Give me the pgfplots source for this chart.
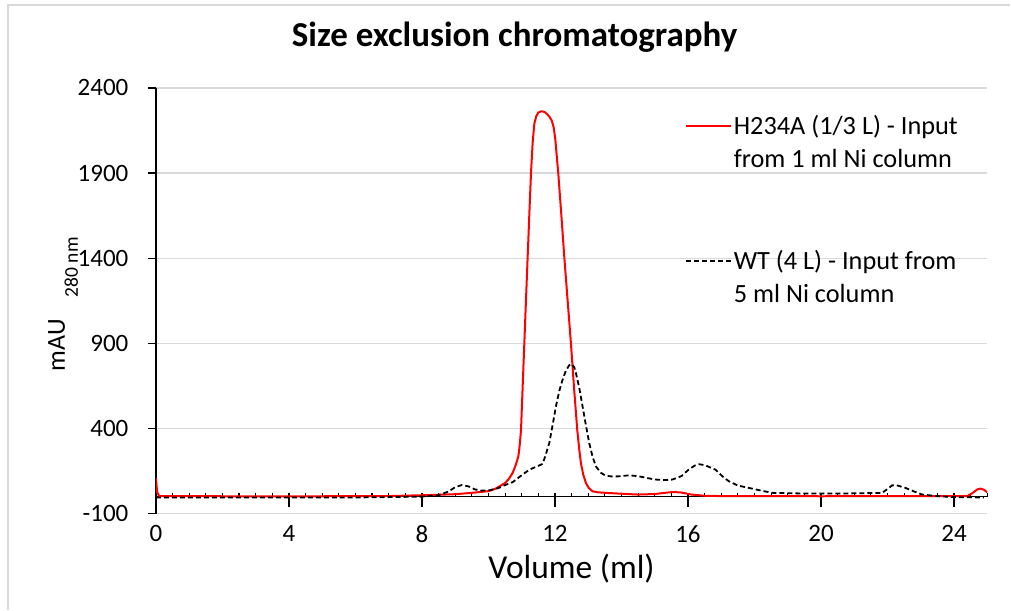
\documentclass[border=0pt]{standalone}
\usepackage{fontspec}
\setmainfont{Carlito}
\usepackage{pgfplots}
\usepackage{pgfplotstable}
\pgfplotsset{compat=1.18}
\definecolor{gridgrey}{HTML}{D9D9D9}

% H234A (1/3 L), input from 1 ml Ni column
\pgfplotstableread{
x y
0 110
0.04 25
0.1 3
2 2
5 2
7 3
8 8
9 14
9.5 22
10 32
10.2 45
10.33 60
10.5 80
10.62 105
10.73 140
10.82 185
10.9 236
10.94 300
10.98 393
11.03 650
11.08 904
11.13 1160
11.18 1410
11.23 1660
11.28 1900
11.33 2080
11.38 2190
11.44 2235
11.5 2255
11.57 2262
11.63 2262
11.7 2257
11.77 2245
11.83 2232
11.9 2210
11.96 2170
12.01 2100
12.05 2010
12.1 1900
12.19 1660
12.28 1410
12.38 1155
12.48 902
12.57 650
12.67 393
12.73 280
12.78 198
12.85 130
12.93 80
13.02 50
13.13 31
13.3 25
13.6 21
14 17
14.5 12
15 15
15.3 22
15.55 27
15.8 24
16.1 12
16.5 5
17 3
20 2
24.4 3
24.55 20
24.7 42
24.8 47
24.9 40
25 25
}\hsa

% WT (4 L), input from 5 ml Ni column
\pgfplotstableread{
x y
0 -5
2 -5
4 -5
6 -5
7 -3
8 0
8.5 8
8.8 30
9.0 55
9.2 68
9.4 60
9.6 42
9.8 35
10.03 37
10.3 50
10.53 70
10.73 85
11.03 130
11.23 158
11.43 175
11.63 192
11.73 250
11.83 315
11.93 420
12.03 530
12.13 620
12.23 687
12.33 740
12.43 772
12.5 778
12.58 760
12.63 726
12.73 640
12.83 530
12.93 420
13.03 315
13.13 235
13.23 178
13.38 140
13.53 122
13.73 118
13.93 119
14.23 125
14.5 120
14.8 108
15.03 100
15.3 97
15.53 100
15.8 120
16.0 155
16.2 182
16.33 190
16.5 185
16.83 158
17.03 120
17.23 90
17.5 65
17.83 51
18.2 35
18.54 22
19.5 18
20.54 18
21.3 20
21.84 22
22.0 45
22.14 66
22.3 65
22.54 51
22.8 30
23.04 12
23.54 2
24 -3
24.9 -5
}\wt

\begin{document}
\begin{tikzpicture}
% x axis line at y = 0 with its tick marks
\begin{axis}[
    scale only axis, width=832pt, height=426pt,
    xmin=0, xmax=25, ymin=-100, ymax=2400,
    axis x line*=middle, axis y line=none,
    every inner x axis line/.append style={-},
    x axis line style={-, line width=1.3pt},
    xtick={0,4,...,24}, xticklabels={},
    minor xtick={0.5,1,...,25},
    ytick=\empty,
    xtick align=center,
    major tick length=14pt, minor tick length=4pt,
    every major tick/.append style={yshift=-3pt, line width=1.3pt, black},
    every minor tick/.append style={yshift=2pt, line width=1.1pt, black},
]
\end{axis}
\begin{axis}[
    name=ax,
    scale only axis, width=832pt, height=426pt,
    xmin=0, xmax=25, ymin=-100, ymax=2400,
    axis lines=left,
    x axis line style={draw=none},
    y axis line style={-, line width=1.3pt},
    xtick={0,4,...,24}, xtick style={draw=none},
    ytick={-100,400,...,2400}, ytick style={line width=1.3pt, black},
    tick align=outside, major tick length=8pt,
    ymajorgrids, grid style={gridgrey, line width=1.3pt},
    tick label style={font=\fontsize{25}{30}\selectfont},
    yticklabel style={xshift=-16pt},
    /pgf/number format/assume math mode=true,
    /pgf/number format/1000 sep={},
    xlabel={Volume (ml)},
    xlabel style={font=\fontsize{33.5}{38}\selectfont,
        at={([yshift=-65pt]axis description cs:0.5,0)}, anchor=base},
    ylabel={mAU\hspace{22pt}\raisebox{-13pt}{\fontsize{19.5}{20}\selectfont 280 nm}},
    ylabel style={font=\fontsize{26}{30}\selectfont,
        at={([xshift=-91pt]axis description cs:0,0.492)}, anchor=base},
    legend style={at={(0.636,0.94)}, anchor=north west, draw=none, fill=none,
        font=\fontsize{26.3}{33}\selectfont, cells={align=left}, row sep=77pt,
        inner sep=0pt},
    legend cell align=left,
    legend image code/.code={\draw[#1] (0pt,16.5pt) -- (45pt,16.5pt);},
]
\addplot[red, line width=2pt] table {\hsa};
\addlegendentry{H234A (1/3 L) - Input\\from 1 ml Ni column}
\addplot[black, line width=1.8pt, dash pattern=on 5pt off 3pt] table {\wt};
\addlegendentry{WT (4 L) - Input from\\5 ml Ni column}
\end{axis}
\node[font=\fontsize{35}{40}\selectfont\bfseries, anchor=base]
    at ([shift={(359pt,467pt)}]ax.south west) {Size exclusion chromatography};
\draw[gridgrey, line width=1.5pt]
    ([shift={(-148pt,-96pt)}]ax.south west) -- ([shift={(-148pt,509pt)}]ax.south west)
    -- ([shift={(855pt,509pt)}]ax.south west);
\path[use as bounding box] ([shift={(-156pt,-96pt)}]ax.south west)
    rectangle ([shift={(855pt,514pt)}]ax.south west);
\end{tikzpicture}
\end{document}
